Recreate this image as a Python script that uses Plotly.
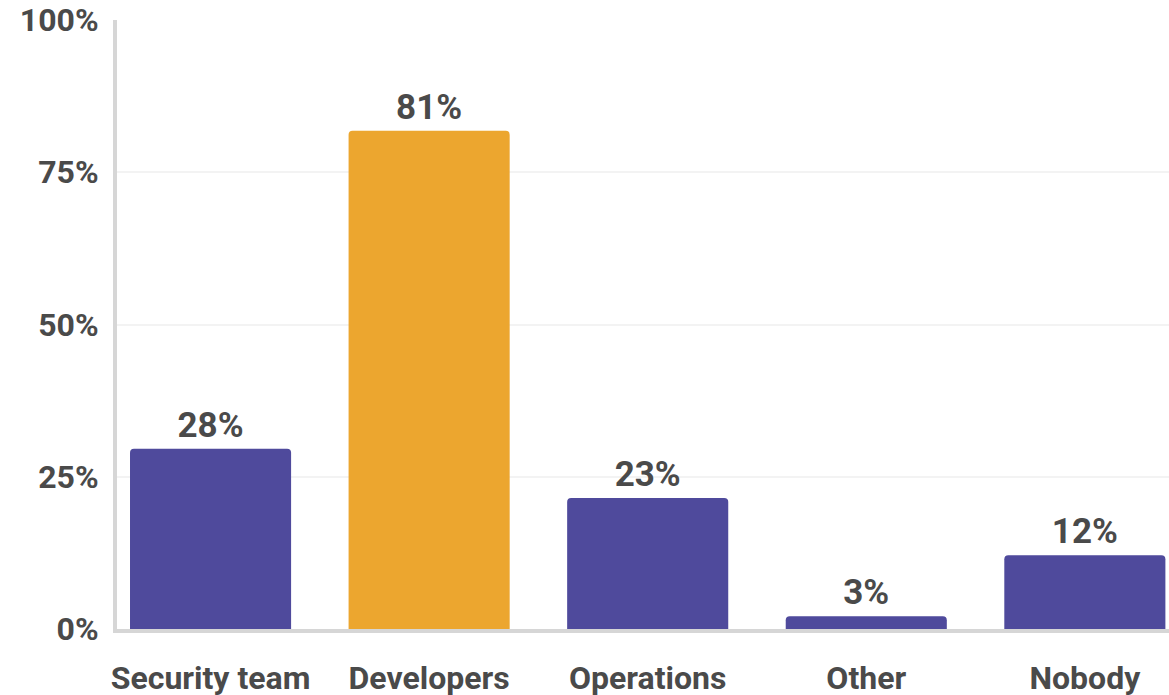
import plotly.graph_objects as go

categories = ["Security team", "Developers", "Operations", "Other", "Nobody"]
bar_values = [29.6, 81.8, 21.5, 2.1, 12.1]
bar_labels = ["28%", "81%", "23%", "3%", "12%"]
bar_colors = ["#4f4a9c", "#eca62f", "#4f4a9c", "#4f4a9c", "#4f4a9c"]
y_ticks = [0, 25, 50, 75, 100]
y_tick_text = ["0%", "25%", "50%", "75%", "100%"]

TEXT = "#4a4a4a"

fig = go.Figure()
fig.add_trace(go.Bar(
    x=categories, y=bar_values,
    marker=dict(color=bar_colors, cornerradius=4, line=dict(width=0)),
    width=0.737,
    text=bar_labels, textposition="outside",
    textfont=dict(family="Roboto", size=35, color=TEXT, weight=700),
    cliponaxis=False,
))

fig.update_layout(
    width=1169, height=695,
    margin=dict(l=117, r=0, t=20, b=66, autoexpand=False),
    paper_bgcolor="white", plot_bgcolor="white",
    showlegend=False,
    font=dict(family="Roboto", color=TEXT),
)
fig.update_xaxes(
    range=[-0.428, 4.385],
    automargin=False,
    showline=True, linecolor="#d6d6d6", linewidth=4,
    showgrid=False,
    tickfont=dict(family="Roboto", size=32, color=TEXT, weight=700),
    ticklabelstandoff=18,
    ticklabeloverflow="allow",
)
fig.update_yaxes(
    range=[0, 100],
    automargin=False,
    tickvals=y_ticks, ticktext=y_tick_text,
    showline=True, linecolor="#d6d6d6", linewidth=4,
    showgrid=True, gridcolor="#f3f3f3", gridwidth=2,
    zeroline=False,
    tickfont=dict(family="Roboto", size=32, color=TEXT, weight=700),
    ticklabelstandoff=8,
    ticklabeloverflow="allow",
)

# drop the default page margin so the figure fills the window exactly
fig.write_html(
    "out.html",
    config={"displayModeBar": False},
    post_script="document.body.style.margin='0';document.body.style.overflow='hidden';",
)
